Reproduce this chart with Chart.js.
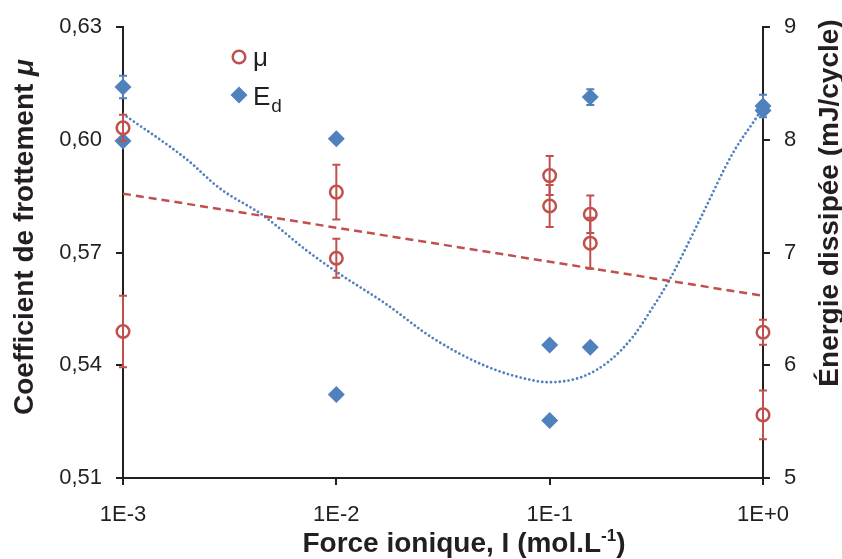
<!DOCTYPE html>
<html>
<head>
<meta charset="utf-8">
<script src="https://cdn.jsdelivr.net/npm/chart.js@4"></script>
<style>
  html, body { margin: 0; padding: 0; background: #fff; }
  #wrap { width: 842px; height: 559px; }
</style>
</head>
<body>
<div id="wrap"><canvas id="chart" width="842" height="559"></canvas></div>
<script>
// data
const muX   = [0.001, 0.001, 0.01, 0.01, 0.1, 0.1, 0.155, 0.155, 1, 1];
const muY   = [0.6032, 0.5490, 0.5861, 0.5685, 0.5905, 0.5824, 0.5802, 0.5725, 0.5488, 0.5268];
const muErr = [0.0035, 0.0095, 0.0073, 0.0052, 0.0052, 0.0056, 0.0050, 0.0068, 0.0033, 0.0065];

const edX   = [0.001, 0.001, 0.01, 0.01, 0.1, 0.1, 0.155, 0.155, 1, 1];
const edY   = [8.47, 7.99, 8.01, 5.74, 6.18, 5.51, 8.38, 6.16, 8.30, 8.26];
const edErr = [0.10, 0, 0, 0, 0, 0, 0.07, 0, 0.10, 0];

// trend lines
const muTrendX = [0.001, 1];
const muTrendY = [0.5857, 0.5585];
const edTrendX = [0.001, 0.00198, 0.00284, 0.00453, 0.00724, 0.01, 0.0172, 0.0284, 0.0506, 0.0867,
                  0.1, 0.143, 0.191, 0.245, 0.294, 0.365, 0.505, 0.721, 0.933, 1];
const edTrendY = [8.23, 7.83, 7.57, 7.33, 7.02, 6.83, 6.54, 6.24, 5.99, 5.86,
                  5.85, 5.90, 6.04, 6.25, 6.47, 6.76, 7.29, 7.88, 8.20, 8.29];

const xTicks = [0.001, 0.01, 0.1, 1];
const xTickLabels = ['1E-3', '1E-2', '1E-1', '1E+0'];
const yTickLabels = ['0,51', '0,54', '0,57', '0,60', '0,63'];

const RED = '#C0504D';
const BLUE = '#4F81BD';
const INK = '#231F20';
const FONT = '"Liberation Sans", Arial, sans-serif';

const pts = (xs, ys) => xs.map((x, i) => ({ x: x, y: ys[i] }));

// error bars drawn through the chart scales
const errorBars = {
  id: 'errorBars',
  afterDatasetsDraw(chart) {
    const ctx = chart.ctx;
    const xs = chart.scales.x;
    const draw = (X, Y, E, axis, color) => {
      const ys = chart.scales[axis];
      ctx.save();
      ctx.strokeStyle = color;
      ctx.lineWidth = 2;
      X.forEach((x, i) => {
        if (!E[i]) return;
        const px = xs.getPixelForValue(x);
        const top = ys.getPixelForValue(Y[i] + E[i]);
        const bot = ys.getPixelForValue(Y[i] - E[i]);
        ctx.beginPath();
        ctx.moveTo(px, top); ctx.lineTo(px, bot);
        ctx.moveTo(px - 4, top); ctx.lineTo(px + 4, top);
        ctx.moveTo(px - 4, bot); ctx.lineTo(px + 4, bot);
        ctx.stroke();
      });
      ctx.restore();
    };
    draw(muX, muY, muErr, 'y', RED);
    draw(edX, edY, edErr, 'y1', BLUE);
  }
};

// axis titles and legend
const decorations = {
  id: 'decorations',
  afterDraw(chart) {
    const ctx = chart.ctx;
    ctx.save();
    ctx.fillStyle = INK;
    ctx.textBaseline = 'middle';

    // left title with italic mu
    const t1 = 'Coefficient de frottement ';
    ctx.font = 'bold 28px ' + FONT;
    const w1 = ctx.measureText(t1).width;
    ctx.font = 'italic bold 28px ' + FONT;
    const w2 = ctx.measureText('μ').width;
    ctx.save();
    ctx.translate(25, 237);
    ctx.rotate(-Math.PI / 2);
    ctx.textAlign = 'left';
    ctx.font = 'bold 28px ' + FONT;
    ctx.fillText(t1, -(w1 + w2) / 2, 0);
    ctx.font = 'italic bold 28px ' + FONT;
    ctx.fillText('μ', -(w1 + w2) / 2 + w1, 0);
    ctx.restore();

    // right title
    ctx.save();
    ctx.translate(830, 203);
    ctx.rotate(-Math.PI / 2);
    ctx.textAlign = 'center';
    ctx.font = 'bold 28px ' + FONT;
    ctx.fillText('Énergie dissipée (mJ/cycle)', 0, 0);
    ctx.restore();

    // x title with superscript
    ctx.textBaseline = 'alphabetic';
    ctx.textAlign = 'left';
    const a = 'Force ionique, I (mol.L', s = '-1', b = ')';
    ctx.font = 'bold 28px ' + FONT;
    const wa = ctx.measureText(a).width, wb = ctx.measureText(b).width;
    ctx.font = 'bold 17px ' + FONT;
    const ws = ctx.measureText(s).width;
    const x0 = 464 - (wa + ws + wb) / 2;
    const base = 552;
    ctx.font = 'bold 28px ' + FONT;
    ctx.fillText(a, x0, base);
    ctx.font = 'bold 17px ' + FONT;
    ctx.fillText(s, x0 + wa, base - 11);
    ctx.font = 'bold 28px ' + FONT;
    ctx.fillText(b, x0 + wa + ws, base);

    // legend
    ctx.strokeStyle = RED;
    ctx.lineWidth = 2.5;
    ctx.beginPath();
    ctx.arc(239, 57, 6.3, 0, Math.PI * 2);
    ctx.stroke();
    ctx.fillStyle = BLUE;
    ctx.beginPath();
    ctx.moveTo(239, 86.5); ctx.lineTo(247.5, 95); ctx.lineTo(239, 103.5); ctx.lineTo(230.5, 95);
    ctx.closePath();
    ctx.fill();
    ctx.fillStyle = INK;
    ctx.font = '26px ' + FONT;
    ctx.fillText('μ', 253, 66);
    ctx.fillText('E', 253, 105);
    const we = ctx.measureText('E').width;
    ctx.font = '19px ' + FONT;
    ctx.fillText('d', 253 + we + 1, 112);
    ctx.restore();
  }
};

const axisCommon = {
  grid: { drawOnChartArea: false, drawTicks: true, tickLength: 7, color: INK, lineWidth: 2 },
  border: { display: true, color: INK, width: 2 },
  ticks: { color: INK, font: { family: FONT, size: 22 } }
};

new Chart(document.getElementById('chart').getContext('2d'), {
  type: 'scatter',
  data: {
    datasets: [
      {
        label: 'μ',
        data: pts(muX, muY),
        yAxisID: 'y',
        pointStyle: 'circle',
        pointRadius: 6.3,
        pointBorderWidth: 2.5,
        borderColor: RED,
        backgroundColor: 'rgba(255,255,255,0)',
        clip: false,
        order: 1
      },
      {
        label: 'Ed',
        data: pts(edX, edY),
        yAxisID: 'y1',
        pointStyle: 'rectRot',
        pointRadius: 8.5,
        pointBorderWidth: 0,
        borderColor: BLUE,
        backgroundColor: BLUE,
        clip: false,
        order: 1
      },
      {
        type: 'line',
        label: 'μ trend',
        data: pts(muTrendX, muTrendY),
        yAxisID: 'y',
        borderColor: RED,
        borderWidth: 2.5,
        borderDash: [8, 5],
        pointRadius: 0,
        fill: false,
        order: 2
      },
      {
        type: 'line',
        label: 'Ed trend',
        data: pts(edTrendX, edTrendY),
        yAxisID: 'y1',
        borderColor: BLUE,
        borderWidth: 2.8,
        borderDash: [0, 4.4],
        borderCapStyle: 'round',
        cubicInterpolationMode: 'monotone',
        pointRadius: 0,
        fill: false,
        order: 2
      }
    ]
  },
  options: {
    responsive: false,
    animation: false,
    layout: { padding: { top: 26, left: 0, right: 0, bottom: 0 } },
    plugins: { legend: { display: false }, tooltip: { enabled: false } },
    scales: {
      x: {
        type: 'logarithmic',
        position: 'bottom',
        min: 0.001,
        max: 1,
        grid: axisCommon.grid,
        border: axisCommon.border,
        ticks: Object.assign({}, axisCommon.ticks, {
          padding: 17,
          maxRotation: 0,
          autoSkip: false,
          callback: (v) => {
            const i = xTicks.findIndex(t => Math.abs(t - v) / t < 1e-6);
            return i >= 0 ? xTickLabels[i] : '';
          }
        }),
        afterBuildTicks: (axis) => { axis.ticks = xTicks.map(v => ({ value: v })); },
        afterFit: (axis) => { axis.height = 81; }
      },
      y: {
        position: 'left',
        min: 0.51,
        max: 0.63,
        grid: axisCommon.grid,
        border: axisCommon.border,
        ticks: Object.assign({}, axisCommon.ticks, {
          stepSize: 0.03,
          padding: 14,
          callback: (v) => yTickLabels[Math.round((v - 0.51) / 0.03)]
        }),
        afterFit: (axis) => { axis.width = 123; }
      },
      y1: {
        position: 'right',
        min: 5,
        max: 9,
        grid: axisCommon.grid,
        border: axisCommon.border,
        ticks: Object.assign({}, axisCommon.ticks, { stepSize: 1, padding: 14 }),
        afterFit: (axis) => { axis.width = 79; }
      }
    }
  },
  plugins: [errorBars, decorations]
});
</script>
</body>
</html>
